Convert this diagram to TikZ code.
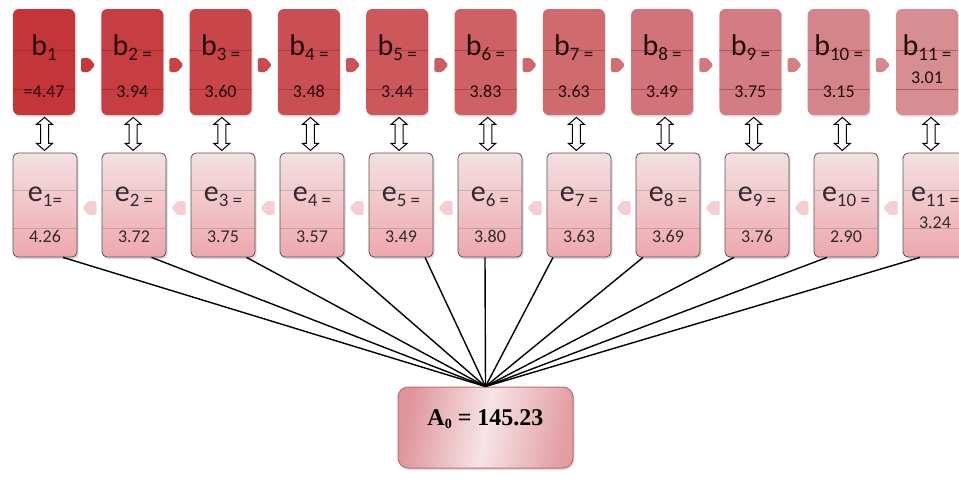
\documentclass[tikz,border=0pt]{standalone}
\usepackage{fontspec}
\setmainfont{Carlito}
\newfontfamily\tnr{Liberation Serif}
\usetikzlibrary{calc,shadows}
\definecolor{bdark}{RGB}{197,52,56}
\definecolor{blight}{RGB}{214,142,147}
\definecolor{etop}{RGB}{244,224,226}
\definecolor{ebot}{RGB}{238,168,174}
\definecolor{eline}{RGB}{90,82,84}
\definecolor{earrow}{RGB}{246,206,210}
\definecolor{aleft}{RGB}{222,148,154}
\definecolor{amid}{RGB}{247,228,230}
\definecolor{aright}{RGB}{226,158,163}
\definecolor{aborder}{RGB}{190,108,113}
\definecolor{btxt}{RGB}{35,12,12}
\definecolor{etxt}{RGB}{50,42,44}
\newcommand\lettr[2]{{\fontsize{30}{30}\selectfont #1}\raisebox{-5.5pt}{\fontsize{19}{19}\selectfont #2}}
\newcommand\numb[1]{{\fontsize{18}{18}\selectfont #1}}
\tikzset{
  bbox/.style={rectangle, rounded corners=6pt, minimum width=62pt, minimum height=106pt,
    inner sep=0pt, drop shadow={opacity=0.25, shadow xshift=1pt, shadow yshift=-1.5pt}},
  ebox/.style={rectangle, rounded corners=5pt, minimum width=64pt, minimum height=104pt,
    inner sep=0pt, draw=eline, line width=0.8pt, top color=etop, bottom color=ebot,
    drop shadow={opacity=0.3, shadow xshift=1.5pt, shadow yshift=-2pt}},
  abox/.style={rectangle, rounded corners=10pt, minimum width=175pt, minimum height=81pt,
    inner sep=0pt, draw=aborder, line width=1pt, left color=aleft, right color=aright,
    middle color=amid, shading angle=80,
    drop shadow={opacity=0.25, shadow xshift=1.5pt, shadow yshift=-2pt}},
  blbl/.style={anchor=base, inner sep=0pt, text=btxt},
  elbl/.style={anchor=base, inner sep=0pt, text=etxt},
  fanline/.style={line width=1.4pt, black},
  dblshape/.style={draw=black, fill=white, line width=1pt, line join=miter},
  rule/.style={line width=0.6pt, opacity=0.45},
  pics/dblarr/.style={code={
    \draw[dblshape] (0,-16.5) -- (8,-9.5) -- (4,-9.5) -- (4,9.5) -- (8,9.5) -- (0,16.5)
      -- (-8,9.5) -- (-4,9.5) -- (-4,-9.5) -- (-8,-9.5) -- cycle;}},
  pics/rarr/.style={code={
    \fill[#1, rounded corners=1.5pt] (-7,-7) -- (1,-7) -- (7,0) -- (1,7) -- (-7,7) -- cycle;}},
  pics/larr/.style={code={
    \fill[#1, rounded corners=1.5pt] (7,-7) -- (-1,-7) -- (-7,0) -- (-1,7) -- (7,7) -- cycle;}}
}
\begin{document}
\begin{tikzpicture}[x=1pt, y=-1pt]
\useasboundingbox (0,0) rectangle (959,479);

% top row
\foreach \i/\s/\v/\dy in {1/1/{=4.47}/35, 2/{2 =}/3.94/35, 3/{3 =}/3.60/35, 4/{4 =}/3.48/35,
  5/{5 =}/3.44/35, 6/{6 =}/3.83/35, 7/{7 =}/3.63/35, 8/{8 =}/3.49/35, 9/{9 =}/3.75/35,
  10/{10 =}/3.15/35, 11/{11 =}/3.01/21} {
  \pgfmathsetmacro\bx{44+88.3*(\i-1)}
  \pgfmathsetmacro\p{100*(\i-1)/10}
  \colorlet{bc}{blight!\p!bdark}
  \node[bbox, fill=bc] (b\i) at (\bx,62) {};
  \draw[rule, bdark!70!black] ($(b\i.west)+(0,-12)$) -- ($(b\i.east)+(0,-12)$);
  \draw[rule, bdark!70!black] ($(b\i.west)+(0,27)$) -- ($(b\i.east)+(0,27)$);
  \node[blbl] (bt\i) at ($(b\i.center)+(0,-7)$) {\lettr{b}{\s}};
  \node[blbl] (bv\i) at ($(b\i.center)+(0,\dy)$) {\numb{\v}};
}

% bottom row
\foreach \i/\s/\v/\dy in {1/{1=}/4.26/37, 2/{2 =}/3.72/37, 3/{3 =}/3.75/37, 4/{4 =}/3.57/37,
  5/{5 =}/3.49/37, 6/{6 =}/3.80/37, 7/{7 =}/3.63/37, 8/{8 =}/3.69/37, 9/{9 =}/3.76/37,
  10/{10 =}/2.90/37, 11/{11 =}/3.24/23} {
  \pgfmathsetmacro\ex{45+89*(\i-1)}
  \node[ebox] (e\i) at (\ex,205) {};
  \draw[rule, eline, opacity=0.25] ($(e\i.west)+(0,-15)$) -- ($(e\i.east)+(0,-15)$);
  \draw[rule, eline, opacity=0.25] ($(e\i.west)+(0,23)$) -- ($(e\i.east)+(0,23)$);
  \node[elbl] (et\i) at ($(e\i.center)+(0,-4)$) {\lettr{e}{\s}};
  \node[elbl] (ev\i) at ($(e\i.center)+(0,\dy)$) {\numb{\v}};
}

% horizontal small arrows
\foreach \i/\j in {1/2,2/3,3/4,4/5,5/6,6/7,7/8,8/9,9/10,10/11} {
  \pgfmathsetmacro\p{100*(\i-0.6)/10}
  \colorlet{ac}{blight!\p!bdark}
  \pic at ($($(b\i.east)!0.5!(b\j.west)$)+(0,3)$) {rarr=ac};
  \pic at ($($(e\i.east)!0.5!(e\j.west)$)+(0,3)$) {larr=earrow};
}

% double arrows
\foreach \i in {1,...,11} {
  \pic at ($(b\i.south)!0.5!(e\i.north)$) {dblarr};
}

% result box
\node[abox] (A0) at (485.5,427.5) {};
\node[anchor=base, inner sep=0pt] (A0t) at ($(A0.center)+(0,-2.5)$)
  {\tnr\bfseries\fontsize{24}{24}\selectfont A\raisebox{-3pt}{\fontsize{14}{14}\selectfont 0} = 145.23};

% fan lines
\foreach \i/\d in {1/18, 2/17.5, 3/23.5, 4/25, 5/24, 6/-5, 7/-26, 8/-25, 9/-23, 10/-19, 11/-15} {
  \draw[fanline] ($(e\i.south)+(\d,0)$) -- (A0.north);
}
\end{tikzpicture}
\end{document}
